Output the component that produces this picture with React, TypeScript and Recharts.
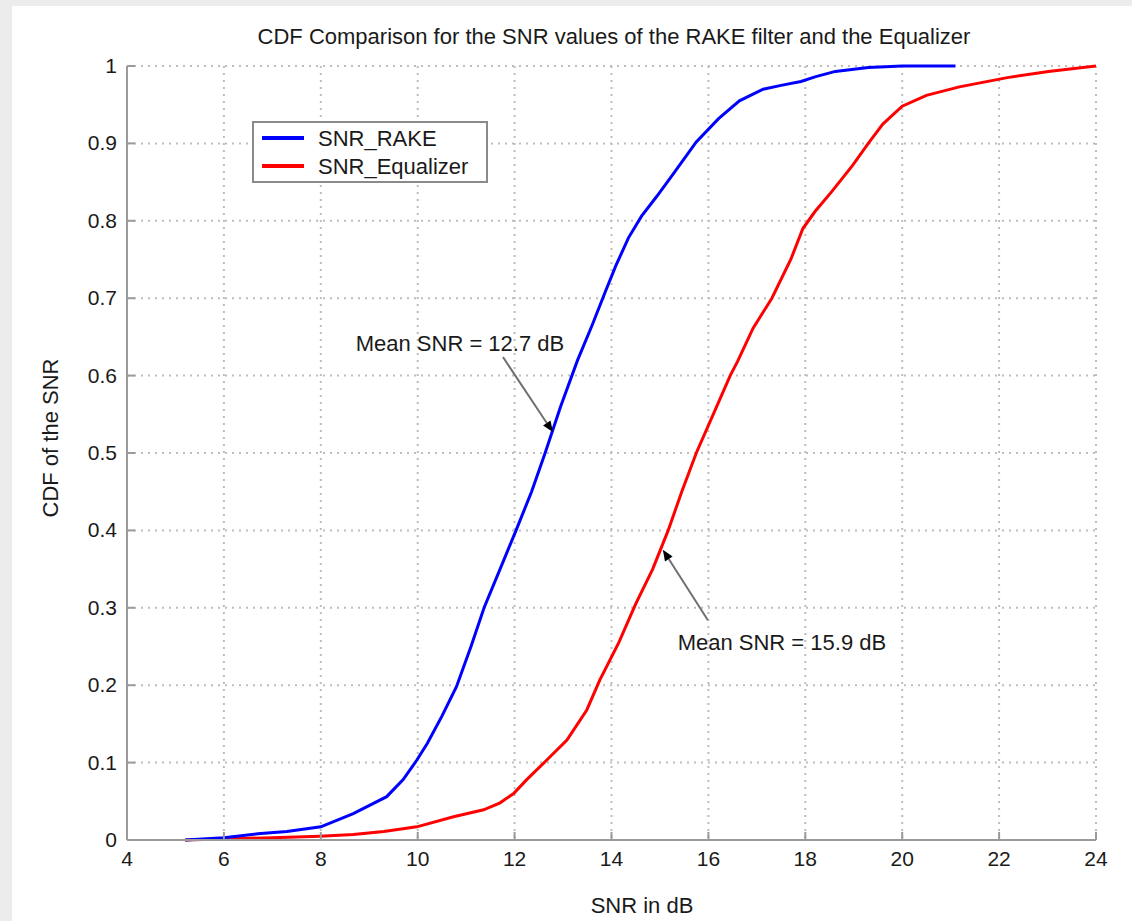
import React from "react";
import {
  LineChart,
  Line,
  XAxis,
  YAxis,
  CartesianGrid,
  ReferenceLine,
} from "recharts";

// ---- Data ----
const rakeX = [5.2, 6, 6.7, 7.3, 8, 8.67, 9.36, 9.7, 9.98, 10.2, 10.5, 10.8, 11.1, 11.37, 11.7, 12.03, 12.35, 12.63, 12.95, 13.3, 13.6, 13.87, 14.09, 14.35, 14.62, 14.94, 15.29, 15.75, 16.21, 16.64, 17.13, 17.5, 17.91, 18.2, 18.62, 19.3, 20.0, 21.1];
const rakeY = [0, 0.003, 0.008, 0.011, 0.017, 0.034, 0.056, 0.078, 0.103, 0.125, 0.16, 0.198, 0.25, 0.3, 0.35, 0.4, 0.45, 0.5, 0.56, 0.62, 0.665, 0.708, 0.742, 0.778, 0.806, 0.832, 0.862, 0.902, 0.932, 0.955, 0.97, 0.975, 0.98, 0.986, 0.993, 0.998, 1, 1];

const eqX = [5.2, 7, 7.98, 8.67, 9.3, 9.98, 10.74, 11.36, 11.7, 11.98, 12.25, 12.66, 13.08, 13.49, 13.76, 14.15, 14.5, 14.85, 15.17, 15.45, 15.75, 16.1, 16.45, 16.6, 16.92, 17.31, 17.7, 17.95, 18.2, 18.55, 18.98, 19.3, 19.6, 20.0, 20.5, 21.18, 22.17, 23.02, 24];
const eqY = [0, 0.003, 0.005, 0.007, 0.011, 0.017, 0.03, 0.039, 0.048, 0.06, 0.078, 0.103, 0.129, 0.168, 0.207, 0.255, 0.305, 0.35, 0.4, 0.45, 0.5, 0.55, 0.6, 0.618, 0.661, 0.7, 0.75, 0.79, 0.812, 0.838, 0.872, 0.9, 0.925, 0.948, 0.962, 0.973, 0.985, 0.993, 1];

const xTicks = [4, 6, 8, 10, 12, 14, 16, 18, 20, 22, 24];
const yTicks = [0, 0.1, 0.2, 0.3, 0.4, 0.5, 0.6, 0.7, 0.8, 0.9, 1];
const yTickLabels = ["0", "0.1", "0.2", "0.3", "0.4", "0.5", "0.6", "0.7", "0.8", "0.9", "1"];

const seriesNames = ["SNR_RAKE", "SNR_Equalizer"];
const seriesColors = ["#0000ff", "#ff0000"];

const title = "CDF Comparison for the SNR values of the RAKE filter and the Equalizer";
const xLabel = "SNR in dB";
const yLabel = "CDF of the SNR";

// annotations: tail and tip in data coordinates
const annoRake = { text: "Mean SNR = 12.7 dB", tail: [11.76, 0.624], tip: [12.79, 0.527] };
const annoEq = { text: "Mean SNR = 15.9 dB", tail: [15.99, 0.284], tip: [15.06, 0.375] };

const rakeData = rakeX.map((x, i) => ({ x, y: rakeY[i] }));
const eqData = eqX.map((x, i) => ({ x, y: eqY[i] }));

const FONT = "'Liberation Sans', Arial, Helvetica, sans-serif";
const TEXT = "#1a1a1a";
const AXIS = "#9a9a9a";
const TICK_LEN = 8;

const BottomTick = (props: any) => {
  const { x, y, payload } = props;
  return (
    <g>
      <line x1={x} y1={y} x2={x} y2={y - TICK_LEN} stroke={AXIS} strokeWidth={2} />
      <text x={x} y={y + 26} textAnchor="middle" fontSize={21} fontFamily={FONT} fill={TEXT}>
        {payload.value}
      </text>
    </g>
  );
};

const TopTick = (props: any) => {
  const { x, y } = props;
  return <line x1={x} y1={y} x2={x} y2={y + TICK_LEN} stroke={AXIS} strokeWidth={2} />;
};

const LeftTick = (props: any) => {
  const { x, y, payload } = props;
  const idx = yTicks.indexOf(payload.value);
  const label = idx >= 0 ? yTickLabels[idx] : String(payload.value);
  return (
    <g>
      <line x1={x} y1={y} x2={x + TICK_LEN} y2={y} stroke={AXIS} strokeWidth={2} />
      <text x={x - 10} y={y + 7} textAnchor="end" fontSize={21} fontFamily={FONT} fill={TEXT}>
        {label}
      </text>
    </g>
  );
};

const RightTick = (props: any) => {
  const { x, y } = props;
  return <line x1={x} y1={y} x2={x - TICK_LEN} y2={y} stroke={AXIS} strokeWidth={2} />;
};

const makeArrow = (text: string, dx: number, dy: number) => (props: any) => {
  const { x1, y1, x2, y2 } = props;
  const ang = Math.atan2(y2 - y1, x2 - x1);
  const L = 11;
  const W = 4.5;
  const bx = x2 - L * Math.cos(ang);
  const by = y2 - L * Math.sin(ang);
  const px = -Math.sin(ang) * W;
  const py = Math.cos(ang) * W;
  return (
    <g>
      <line x1={x1} y1={y1} x2={bx} y2={by} stroke="#707070" strokeWidth={2} />
      <polygon points={`${x2},${y2} ${bx + px},${by + py} ${bx - px},${by - py}`} fill="#000" />
      <text x={x1 + dx} y={y1 + dy} textAnchor="middle" fontSize={22} fontFamily={FONT} fill={TEXT}>
        {text}
      </text>
    </g>
  );
};

const LegendBox = () => (
  <svg width={236} height={62} style={{ display: "block" }}>
    <rect x={1} y={1} width={234} height={60} fill="#fff" stroke="#8a8a8a" strokeWidth={2} />
    {seriesNames.map((n, i) => (
      <g key={n}>
        <line x1={10} x2={52} y1={17 + i * 28} y2={17 + i * 28} stroke={seriesColors[i]} strokeWidth={4} />
        <text x={66} y={25 + i * 28} fontSize={22} fontFamily={FONT} fill={TEXT}>
          {n}
        </text>
      </g>
    ))}
  </svg>
);

export default function App() {
  return (
    <div style={{ position: "absolute", left: 0, top: 0, width: 1132, height: 921, background: "#ececec" }}>
      <div style={{ position: "absolute", left: 12, top: 6, width: 1120, height: 915, background: "#ffffff" }} />
      <div style={{ position: "absolute", left: 0, top: 0 }}>
        <LineChart width={1132} height={921} margin={{ top: 66, right: 36, bottom: 41, left: 67 }}>
          <CartesianGrid stroke="#bdbdbd" strokeWidth={2} strokeDasharray="2 5" />
          <XAxis
            type="number"
            dataKey="x"
            domain={[4, 24]}
            ticks={xTicks}
            interval={0}
            allowDataOverflow
            height={40}
            tickSize={0}
            tickMargin={0}
            tick={<BottomTick />}
            axisLine={{ stroke: AXIS, strokeWidth: 2 }}
            tickLine={false}
          />
          <XAxis
            xAxisId="top"
            orientation="top"
            type="number"
            dataKey="x"
            domain={[4, 24]}
            ticks={xTicks}
            interval={0}
            height={0}
            tickSize={0}
            tickMargin={0}
            tick={<TopTick />}
            axisLine={{ stroke: "#c8c8c8", strokeWidth: 3 }}
            tickLine={false}
          />
          <YAxis
            type="number"
            domain={[0, 1]}
            ticks={yTicks}
            interval={0}
            width={60}
            tickSize={0}
            tickMargin={0}
            tick={<LeftTick />}
            axisLine={{ stroke: AXIS, strokeWidth: 2 }}
            tickLine={false}
          />
          <YAxis
            yAxisId="right"
            orientation="right"
            type="number"
            domain={[0, 1]}
            ticks={yTicks}
            interval={0}
            width={0}
            tickSize={0}
            tickMargin={0}
            tick={<RightTick />}
            axisLine={{ stroke: AXIS, strokeWidth: 2 }}
            tickLine={false}
          />
          <Line
            data={eqData}
            dataKey="y"
            name={seriesNames[1]}
            type="linear"
            stroke={seriesColors[1]}
            strokeWidth={3}
            dot={false}
            isAnimationActive={false}
          />
          <Line
            data={rakeData}
            dataKey="y"
            name={seriesNames[0]}
            type="linear"
            stroke={seriesColors[0]}
            strokeWidth={3}
            dot={false}
            isAnimationActive={false}
          />
          <ReferenceLine
            segment={[
              { x: annoRake.tail[0], y: annoRake.tail[1] },
              { x: annoRake.tip[0], y: annoRake.tip[1] },
            ]}
            ifOverflow="visible"
            shape={makeArrow(annoRake.text, -43, -6)}
          />
          <ReferenceLine
            segment={[
              { x: annoEq.tail[0], y: annoEq.tail[1] },
              { x: annoEq.tip[0], y: annoEq.tip[1] },
            ]}
            ifOverflow="visible"
            shape={makeArrow(annoEq.text, 74, 30)}
          />
        </LineChart>
      </div>
      <div style={{ position: "absolute", left: 252, top: 121 }}>
        <LegendBox />
      </div>
      <svg
        width={1132}
        height={921}
        style={{ position: "absolute", left: 0, top: 0, pointerEvents: "none" }}
      >
        <text x={614} y={44} textAnchor="middle" fontSize={22} fontFamily={FONT} fill={TEXT}>
          {title}
        </text>
        <text x={642} y={913} textAnchor="middle" fontSize={22} fontFamily={FONT} fill={TEXT}>
          {xLabel}
        </text>
        <text
          x={58}
          y={438}
          textAnchor="middle"
          fontSize={22}
          fontFamily={FONT}
          fill={TEXT}
          transform="rotate(-90 58 438)"
        >
          {yLabel}
        </text>
      </svg>
    </div>
  );
}
